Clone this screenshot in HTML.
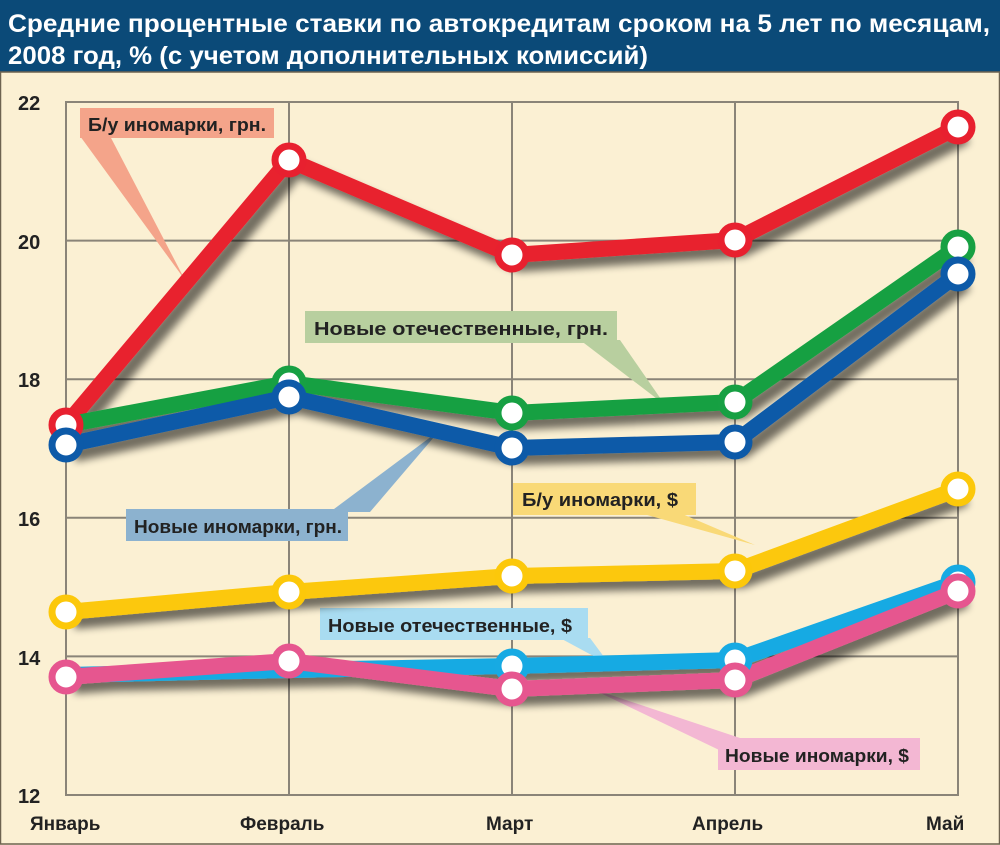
<!DOCTYPE html>
<html><head><meta charset="utf-8"><style>
html,body{margin:0;padding:0;background:#fbf0d3;}
svg{display:block}
</style></head><body>
<svg width="1000" height="845" viewBox="0 0 1000 845" xmlns="http://www.w3.org/2000/svg" font-family="'Liberation Sans', 'DejaVu Sans', sans-serif" font-weight="bold">
<defs>
<filter id="sh" x="-10%" y="-10%" width="130%" height="140%"><feGaussianBlur in="SourceAlpha" stdDeviation="4"/><feOffset dx="8" dy="9"/><feComponentTransfer><feFuncA type="linear" slope="0.55"/></feComponentTransfer><feMerge><feMergeNode/><feMergeNode in="SourceGraphic"/></feMerge></filter>
</defs>
<rect x="0" y="0" width="1000" height="845" fill="#fbf0d3"/>
<rect x="0" y="0" width="1000" height="72" fill="#0b4a78"/>
<text x="8" y="32" fill="#fff" font-size="25" textLength="982" lengthAdjust="spacingAndGlyphs">Средние процентные ставки по автокредитам сроком на 5 лет по месяцам,</text>
<text x="8" y="64" fill="#fff" font-size="25" textLength="640" lengthAdjust="spacingAndGlyphs">2008 год, % (с учетом дополнительных комиссий)</text>
<rect x="0.5" y="72" width="999" height="772" fill="none" stroke="#6d6350" stroke-width="1.5"/>
<g stroke="#8a8478" stroke-width="2" fill="none">
<rect x="66" y="102" width="892" height="693"/>
<line x1="289" y1="102" x2="289" y2="795"/><line x1="512" y1="102" x2="512" y2="795"/><line x1="735" y1="102" x2="735" y2="795"/>
<line x1="66" y1="240.6" x2="958" y2="240.6"/><line x1="66" y1="379.2" x2="958" y2="379.2"/><line x1="66" y1="517.8" x2="958" y2="517.8"/><line x1="66" y1="656.4" x2="958" y2="656.4"/>
</g>
<g font-size="20" fill="#222">
<text x="18" y="110">22</text><text x="18" y="249">20</text><text x="18" y="387">18</text><text x="18" y="526">16</text><text x="18" y="665">14</text><text x="18" y="803">12</text>
<text x="30" y="830" font-size="19">Январь</text><text x="240" y="830" font-size="19">Февраль</text><text x="486" y="830" font-size="19">Март</text><text x="692" y="830" font-size="19">Апрель</text><text x="926" y="830" font-size="19">Май</text>
</g>
<g font-size="18" fill="#222">
<polygon points="80,136 110,136 185,280" fill="#f4a48a"/>
<rect x="80" y="108" width="194" height="30" fill="#f4a48a"/><text x="88" y="131" textLength="178" lengthAdjust="spacingAndGlyphs">Б/у иномарки, грн.</text>
<polygon points="580,340 620,340 665,405" fill="#b8cf9f"/>
<rect x="305" y="311" width="312" height="32" fill="#b8cf9f"/><text x="314" y="335" textLength="294" lengthAdjust="spacingAndGlyphs">Новые отечественные, грн.</text>
<polygon points="330,512 370,512 440,430" fill="#8cb2cf"/>
<rect x="126" y="509" width="222" height="32" fill="#8cb2cf"/><text x="134" y="533" textLength="208" lengthAdjust="spacingAndGlyphs">Новые иномарки, грн.</text>
<polygon points="640,513 680,513 755,545" fill="#f9d977"/>
<rect x="513" y="483" width="183" height="32" fill="#f9d977"/><text x="522" y="506" textLength="156" lengthAdjust="spacingAndGlyphs">Б/у иномарки, $</text>
<polygon points="560,638 590,638 610,665" fill="#a9dcf1"/>
<rect x="320" y="608" width="268" height="32" fill="#a9dcf1"/><text x="328" y="632" textLength="244" lengthAdjust="spacingAndGlyphs">Новые отечественные, $</text>
<polygon points="590,688 740,738 740,760" fill="#f3b7d3"/>
<rect x="718" y="738" width="202" height="32" fill="#f3b7d3"/><text x="725" y="762" textLength="184" lengthAdjust="spacingAndGlyphs">Новые иномарки, $</text>
</g>
<g fill="none" stroke-width="16" stroke-linejoin="round" filter="url(#sh)">
<polyline stroke="#e8202f" points="66,425 289,160 512,255 735,240 958,127"/>
<polyline stroke="#17a043" points="66,425 289,383 512,413 735,402 958,247"/>
<polyline stroke="#0d5aa8" points="66,445 289,397 512,448 735,442 958,274"/>
<polyline stroke="#fcc80a" points="66,612 289,592 512,576 735,571 958,489"/>
<polyline stroke="#17aae3" points="66,675 289,670 512,666 735,660 958,582"/>
<polyline stroke="#e6568f" points="66,677 289,661 512,689 735,680 958,591"/>
</g>
<g fill="#fff" stroke-width="7">
<g stroke="#e8202f"><circle cx="66" cy="425" r="14"/><circle cx="289" cy="160" r="14"/><circle cx="512" cy="255" r="14"/><circle cx="735" cy="240" r="14"/><circle cx="958" cy="127" r="14"/></g>
<g stroke="#17a043"><circle cx="289" cy="383" r="14"/><circle cx="512" cy="413" r="14"/><circle cx="735" cy="402" r="14"/><circle cx="958" cy="247" r="14"/></g>
<g stroke="#0d5aa8"><circle cx="66" cy="445" r="14"/><circle cx="289" cy="397" r="14"/><circle cx="512" cy="448" r="14"/><circle cx="735" cy="442" r="14"/><circle cx="958" cy="274" r="14"/></g>
<g stroke="#fcc80a"><circle cx="66" cy="612" r="14"/><circle cx="289" cy="592" r="14"/><circle cx="512" cy="576" r="14"/><circle cx="735" cy="571" r="14"/><circle cx="958" cy="489" r="14"/></g>
<g stroke="#17aae3"><circle cx="512" cy="666" r="14"/><circle cx="735" cy="660" r="14"/><circle cx="958" cy="582" r="14"/></g>
<g stroke="#e6568f"><circle cx="66" cy="677" r="14"/><circle cx="289" cy="661" r="14"/><circle cx="512" cy="689" r="14"/><circle cx="735" cy="680" r="14"/><circle cx="958" cy="591" r="14"/></g>
</g>
</svg>
</body></html>
